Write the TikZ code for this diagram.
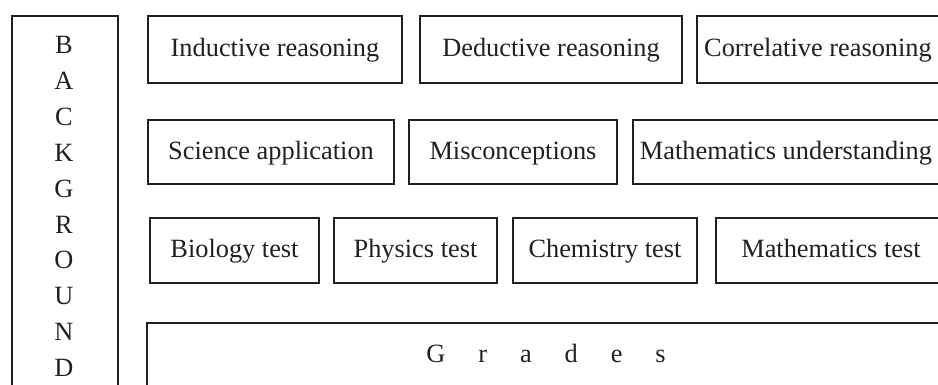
\documentclass[tikz,border=0pt]{standalone}
\usepackage{fontspec}
\setmainfont{Liberation Serif}
\usetikzlibrary{positioning}
\definecolor{inkgray}{HTML}{231F20}

\begin{document}
\begin{tikzpicture}[x=0.02cm, y=-0.02cm,
    box/.style={draw=inkgray, line width=1.1pt, inner sep=0pt, text height=0.95em, text depth=0.15em},
    size/.style 2 args={minimum width=#1*0.02cm, minimum height=#2*0.02cm},
    boxtext/.style={text=inkgray, font=\fontsize{15}{20.4}\selectfont}]

    \useasboundingbox (0,0) rectangle (938,385);
    \clip (0,0) rectangle (938,385);

    % Background column
    \node[draw=inkgray, line width=1.1pt, size={106}{420}, anchor=north west] (bg) at (11,15) {};
    \node[boxtext, align=center] (bgtext) at (64,206.5) {B\\A\\C\\K\\G\\R\\O\\U\\N\\D};

    % Reasoning row
    \node[box, boxtext, size={254}{67}] (ind) at (275,49.5) {Inductive reasoning};
    \node[box, boxtext, size={262}{67}] (ded) at (551,49.5) {Deductive reasoning};
    \node[box, boxtext, size={242}{67}] (cor) at (818,49.5) {Correlative reasoning};

    % Understanding row
    \node[box, boxtext, size={246}{64}] (sci) at (271,152) {Science application};
    \node[box, boxtext, size={208}{64}] (mis) at (513,152) {Misconceptions};
    \node[box, boxtext, size={306}{64}] (mau) at (786,152) {Mathematics understanding};

    % Test row
    \node[box, boxtext, size={169}{65}] (bio) at (234.5,250.5) {Biology test};
    \node[box, boxtext, size={163}{65}] (phy) at (415.5,250.5) {Physics test};
    \node[box, boxtext, size={184}{65}] (che) at (605,250.5) {Chemistry test};
    \node[box, boxtext, size={230}{65}] (mat) at (831,250.5) {Mathematics test};

    % Grades
    \node[draw=inkgray, line width=1.1pt, size={860}{100}, anchor=north west] (gr) at (146,322) {};
    \node[boxtext] (grtext) at (546,353) {G\hspace{1.25em}r\hspace{1.25em}a\hspace{1.25em}d\hspace{1.25em}e\hspace{1.25em}s};

\end{tikzpicture}
\end{document}
